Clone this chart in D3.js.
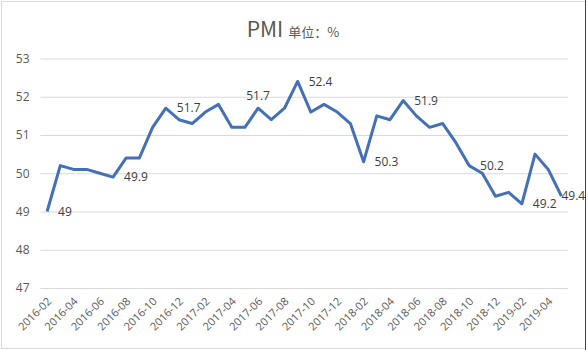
<!DOCTYPE html>
<html>
<head>
<meta charset="utf-8">
<script src="https://cdn.jsdelivr.net/npm/d3@7"></script>
<style>
  html, body { margin: 0; padding: 0; background: #fff; }
  svg { display: block; }
  text { font-family: "Microsoft YaHei", "Noto Sans CJK SC", "Open Sans", sans-serif; }
</style>
</head>
<body>
<svg id="chart" width="588" height="350"></svg>
<script>
// Monthly manufacturing PMI, Feb 2016 – May 2019
const months = [
  "2016-02","2016-03","2016-04","2016-05","2016-06","2016-07","2016-08","2016-09","2016-10","2016-11","2016-12",
  "2017-01","2017-02","2017-03","2017-04","2017-05","2017-06","2017-07","2017-08","2017-09","2017-10","2017-11","2017-12",
  "2018-01","2018-02","2018-03","2018-04","2018-05","2018-06","2018-07","2018-08","2018-09","2018-10","2018-11","2018-12",
  "2019-01","2019-02","2019-03","2019-04","2019-05"
];
const pmi = [
  49.0, 50.2, 50.1, 50.1, 50.0, 49.9, 50.4, 50.4, 51.2, 51.7, 51.4,
  51.3, 51.6, 51.8, 51.2, 51.2, 51.7, 51.4, 51.7, 52.4, 51.6, 51.8, 51.6,
  51.3, 50.3, 51.5, 51.4, 51.9, 51.5, 51.2, 51.3, 50.8, 50.2, 50.0, 49.4,
  49.5, 49.2, 50.5, 50.1, 49.4
];
const yTicks = [47, 48, 49, 50, 51, 52, 53];
// Months whose value is printed next to the line
const labelledMonths = ["2016-02","2016-07","2016-11","2017-06","2017-09","2018-02","2018-05","2018-10","2019-02","2019-05"];
const labelAbove = ["2017-06"];

const svg = d3.select("#chart");

// outer frame
svg.append("rect")
  .attr("x", 1.5).attr("y", 1.5).attr("width", 584).attr("height", 347)
  .attr("fill", "#fff").attr("stroke", "#d9d9d9");
svg.append("line")
  .attr("x1", 585.5).attr("x2", 585.5).attr("y1", 0).attr("y2", 350)
  .attr("stroke", "#444").attr("stroke-width", 1);

const plotL = 40.5, plotR = 568, plotT = 58.5, plotB = 288;

const x = d3.scaleBand().domain(months).range([plotL, plotR]);
const y = d3.scaleLinear().domain([47, 53]).range([plotB, plotT]);

// title
const title = svg.append("text")
  .attr("x", 293).attr("y", 37)
  .attr("text-anchor", "middle")
  .attr("fill", "#595959");
title.append("tspan").attr("font-size", 21).text("PMI");
title.append("tspan").attr("font-size", 13).attr("dx", 5).text("单位：%");

// horizontal grid + y labels
const yAxis = d3.axisLeft(y).tickValues(yTicks).tickSize(-(plotR - plotL)).tickPadding(11)
  .tickFormat(d3.format("d"));
const gy = svg.append("g").attr("transform", `translate(${plotL},0)`).call(yAxis);
gy.select(".domain").remove();
gy.selectAll(".tick line").attr("stroke", "#d9d9d9").attr("stroke-width", 1);
gy.selectAll(".tick text").attr("fill", "#595959").attr("font-size", 12)
  .style("font-family", "'Open Sans', 'Noto Sans', sans-serif");

// x axis labels (every other month)
const xAxis = d3.axisBottom(x)
  .tickValues(months.filter((m, i) => i % 2 === 0))
  .tickSize(0);
const gx = svg.append("g").attr("transform", `translate(0,${plotB})`).call(xAxis);
gx.select(".domain").remove();
gx.selectAll(".tick text")
  .attr("fill", "#595959").attr("font-size", 11)
  .style("font-family", "'Open Sans', 'Noto Sans', sans-serif")
  .attr("text-anchor", "end")
  .attr("dy", 0).attr("y", 0)
  .attr("transform", "translate(5,14) rotate(-45)");

// line
const cx = m => x(m) + x.bandwidth() / 2;
const line = d3.line().x((d, i) => cx(months[i])).y(d => y(d));
svg.append("path")
  .datum(pmi)
  .attr("d", line)
  .attr("fill", "none")
  .attr("stroke", "#4470b8")
  .attr("stroke-width", 3)
  .attr("stroke-linejoin", "round");

// value labels
const fmt = v => (Number.isInteger(v) ? d3.format("d")(v) : d3.format(".1f")(v));
labelledMonths.forEach(m => {
  const i = months.indexOf(m);
  const v = pmi[i];
  const above = labelAbove.includes(m);
  const last = i === months.length - 1;
  svg.append("text")
    .attr("x", above ? cx(m) : cx(m) + (last ? 0 : 11))
    .attr("y", above ? y(v) - 8 : y(v))
    .attr("dy", above ? 0 : "0.35em")
    .attr("text-anchor", above ? "middle" : "start")
    .attr("fill", "#404040")
    .attr("font-size", 12)
    .style("font-family", "'Open Sans', 'Noto Sans', sans-serif")
    .text(fmt(v));
});
</script>
</body>
</html>
